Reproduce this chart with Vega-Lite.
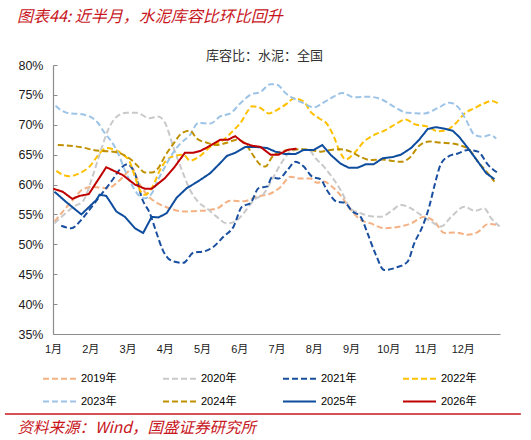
{
  "$schema": "https://vega.github.io/schema/vega-lite/v6.json",
  "width": 447,
  "height": 269,
  "autosize": {"type": "none"},
  "padding": {"left": 53, "top": 65, "right": 31, "bottom": 106},
  "background": "white",
  "title": {
    "text": "图表44: 近半月，水泥库容比环比回升",
    "anchor": "start",
    "frame": "group",
    "dx": -36,
    "font": "Noto Sans CJK SC",
    "fontSize": 16,
    "fontStyle": "italic",
    "fontWeight": "normal",
    "color": "#C8161D",
    "offset": 24
  },
  "config": {
    "view": {"stroke": null},
    "font": "Liberation Sans, Noto Sans CJK SC",
    "axis": {"labelOverlap": false, "labelFlush": false}
  },
  "data": {
    "values": [
      {"s": "2019年", "m": 1.04, "v": 53.8}, {"s": "2019年", "m": 1.28, "v": 55.6}, {"s": "2019年", "m": 1.53, "v": 57.4}, {"s": "2019年", "m": 1.8, "v": 59.2},
      {"s": "2019年", "m": 2.07, "v": 59.6}, {"s": "2019年", "m": 2.48, "v": 59.4}, {"s": "2019年", "m": 2.75, "v": 60.5}, {"s": "2019年", "m": 3.02, "v": 62.2},
      {"s": "2019年", "m": 3.11, "v": 62.8}, {"s": "2019年", "m": 3.33, "v": 60.0}, {"s": "2019年", "m": 3.6, "v": 57.8}, {"s": "2019年", "m": 3.87, "v": 56.7},
      {"s": "2019年", "m": 4.14, "v": 56.0}, {"s": "2019年", "m": 4.5, "v": 55.5}, {"s": "2019年", "m": 4.95, "v": 55.6}, {"s": "2019年", "m": 5.4, "v": 56.0},
      {"s": "2019年", "m": 5.76, "v": 57.3}, {"s": "2019年", "m": 6.12, "v": 57.2}, {"s": "2019年", "m": 6.48, "v": 58.0}, {"s": "2019年", "m": 6.84, "v": 58.5},
      {"s": "2019年", "m": 7.11, "v": 59.6}, {"s": "2019年", "m": 7.37, "v": 61.3}, {"s": "2019年", "m": 7.64, "v": 61.0}, {"s": "2019年", "m": 7.91, "v": 61.0},
      {"s": "2019年", "m": 8.09, "v": 60.3}, {"s": "2019年", "m": 8.27, "v": 60.5}, {"s": "2019年", "m": 8.5, "v": 59.6}, {"s": "2019年", "m": 8.72, "v": 58.2},
      {"s": "2019年", "m": 8.99, "v": 55.8}, {"s": "2019年", "m": 9.26, "v": 54.1}, {"s": "2019年", "m": 9.53, "v": 53.5}, {"s": "2019年", "m": 9.89, "v": 52.7},
      {"s": "2019年", "m": 10.25, "v": 52.9}, {"s": "2019年", "m": 10.61, "v": 53.5}, {"s": "2019年", "m": 10.97, "v": 54.6}, {"s": "2019年", "m": 11.24, "v": 53.8},
      {"s": "2019年", "m": 11.51, "v": 51.9}, {"s": "2019年", "m": 11.78, "v": 52.0}, {"s": "2019年", "m": 12.14, "v": 51.6}, {"s": "2019年", "m": 12.41, "v": 52.1},
      {"s": "2019年", "m": 12.68, "v": 53.4}, {"s": "2019年", "m": 12.95, "v": 53.2},

      {"s": "2020年", "m": 1.04, "v": 53.5}, {"s": "2020年", "m": 1.3, "v": 55.0}, {"s": "2020年", "m": 1.55, "v": 56.3}, {"s": "2020年", "m": 1.8, "v": 57.2},
      {"s": "2020年", "m": 2.07, "v": 61.5}, {"s": "2020年", "m": 2.3, "v": 66.0}, {"s": "2020年", "m": 2.47, "v": 69.0}, {"s": "2020年", "m": 2.7, "v": 71.3},
      {"s": "2020年", "m": 2.97, "v": 72.0}, {"s": "2020年", "m": 3.24, "v": 72.0}, {"s": "2020年", "m": 3.6, "v": 71.1}, {"s": "2020年", "m": 3.82, "v": 71.4},
      {"s": "2020年", "m": 4.01, "v": 70.3}, {"s": "2020年", "m": 4.23, "v": 66.3}, {"s": "2020年", "m": 4.46, "v": 62.4}, {"s": "2020年", "m": 4.68, "v": 59.1},
      {"s": "2020年", "m": 4.9, "v": 57.1}, {"s": "2020年", "m": 5.13, "v": 56.0}, {"s": "2020年", "m": 5.4, "v": 54.6}, {"s": "2020年", "m": 5.67, "v": 53.5},
      {"s": "2020年", "m": 5.89, "v": 53.8}, {"s": "2020年", "m": 6.12, "v": 55.2}, {"s": "2020年", "m": 6.39, "v": 57.4}, {"s": "2020年", "m": 6.66, "v": 58.5},
      {"s": "2020年", "m": 6.92, "v": 61.3}, {"s": "2020年", "m": 7.15, "v": 63.8}, {"s": "2020年", "m": 7.37, "v": 65.5}, {"s": "2020年", "m": 7.64, "v": 65.9},
      {"s": "2020年", "m": 7.87, "v": 65.8}, {"s": "2020年", "m": 8.05, "v": 64.4}, {"s": "2020年", "m": 8.27, "v": 63.0}, {"s": "2020年", "m": 8.45, "v": 61.6},
      {"s": "2020年", "m": 8.72, "v": 59.1}, {"s": "2020年", "m": 8.99, "v": 56.0}, {"s": "2020年", "m": 9.26, "v": 55.2}, {"s": "2020年", "m": 9.53, "v": 54.7},
      {"s": "2020年", "m": 9.8, "v": 54.6}, {"s": "2020年", "m": 10.07, "v": 55.5}, {"s": "2020年", "m": 10.34, "v": 56.6}, {"s": "2020年", "m": 10.61, "v": 56.0},
      {"s": "2020年", "m": 10.88, "v": 54.9}, {"s": "2020年", "m": 11.15, "v": 53.8}, {"s": "2020年", "m": 11.42, "v": 53.0}, {"s": "2020年", "m": 11.69, "v": 54.6},
      {"s": "2020年", "m": 12.05, "v": 56.3}, {"s": "2020年", "m": 12.32, "v": 55.6}, {"s": "2020年", "m": 12.58, "v": 56.0}, {"s": "2020年", "m": 12.76, "v": 54.4},
      {"s": "2020年", "m": 12.99, "v": 53.0},

      {"s": "2021年", "m": 1.22, "v": 53.1}, {"s": "2021年", "m": 1.49, "v": 52.7}, {"s": "2021年", "m": 1.76, "v": 54.1}, {"s": "2021年", "m": 1.98, "v": 55.8},
      {"s": "2021年", "m": 2.25, "v": 58.0}, {"s": "2021年", "m": 2.6, "v": 60.8}, {"s": "2021年", "m": 2.79, "v": 62.5}, {"s": "2021年", "m": 3.0, "v": 63.4},
      {"s": "2021年", "m": 3.2, "v": 61.8}, {"s": "2021年", "m": 3.4, "v": 57.5}, {"s": "2021年", "m": 3.6, "v": 55.2}, {"s": "2021年", "m": 3.78, "v": 51.9},
      {"s": "2021年", "m": 3.95, "v": 49.0}, {"s": "2021年", "m": 4.1, "v": 47.6}, {"s": "2021年", "m": 4.27, "v": 47.1}, {"s": "2021年", "m": 4.5, "v": 46.9},
      {"s": "2021年", "m": 4.77, "v": 48.6}, {"s": "2021年", "m": 5.04, "v": 48.8}, {"s": "2021年", "m": 5.31, "v": 49.6}, {"s": "2021年", "m": 5.58, "v": 51.3},
      {"s": "2021年", "m": 5.85, "v": 53.0}, {"s": "2021年", "m": 6.07, "v": 56.3}, {"s": "2021年", "m": 6.3, "v": 56.9}, {"s": "2021年", "m": 6.52, "v": 59.4},
      {"s": "2021年", "m": 6.75, "v": 59.7}, {"s": "2021年", "m": 6.88, "v": 61.2}, {"s": "2021年", "m": 7.06, "v": 61.0}, {"s": "2021年", "m": 7.29, "v": 62.4},
      {"s": "2021年", "m": 7.51, "v": 63.8}, {"s": "2021年", "m": 7.73, "v": 63.0}, {"s": "2021年", "m": 7.96, "v": 61.3}, {"s": "2021年", "m": 8.18, "v": 60.9},
      {"s": "2021年", "m": 8.36, "v": 59.0}, {"s": "2021年", "m": 8.63, "v": 57.1}, {"s": "2021年", "m": 8.81, "v": 57.0}, {"s": "2021年", "m": 9.04, "v": 55.5},
      {"s": "2021年", "m": 9.26, "v": 54.6}, {"s": "2021年", "m": 9.44, "v": 51.9}, {"s": "2021年", "m": 9.67, "v": 48.2}, {"s": "2021年", "m": 9.89, "v": 45.7},
      {"s": "2021年", "m": 10.25, "v": 46.2}, {"s": "2021年", "m": 10.52, "v": 47.1}, {"s": "2021年", "m": 10.7, "v": 50.2}, {"s": "2021年", "m": 10.92, "v": 53.0},
      {"s": "2021年", "m": 11.1, "v": 56.3}, {"s": "2021年", "m": 11.24, "v": 59.8}, {"s": "2021年", "m": 11.41, "v": 63.4}, {"s": "2021年", "m": 11.64, "v": 64.8},
      {"s": "2021年", "m": 11.87, "v": 65.2}, {"s": "2021年", "m": 12.14, "v": 65.8}, {"s": "2021年", "m": 12.41, "v": 65.5}, {"s": "2021年", "m": 12.68, "v": 63.3},
      {"s": "2021年", "m": 12.95, "v": 61.9},

      {"s": "2022年", "m": 1.09, "v": 62.3}, {"s": "2022年", "m": 1.28, "v": 61.6}, {"s": "2022年", "m": 1.44, "v": 61.4}, {"s": "2022年", "m": 1.71, "v": 61.9},
      {"s": "2022年", "m": 1.98, "v": 63.0}, {"s": "2022年", "m": 2.25, "v": 65.2}, {"s": "2022年", "m": 2.43, "v": 66.1}, {"s": "2022年", "m": 2.66, "v": 65.8},
      {"s": "2022年", "m": 2.88, "v": 65.0}, {"s": "2022年", "m": 3.06, "v": 63.8}, {"s": "2022年", "m": 3.2, "v": 61.3}, {"s": "2022年", "m": 3.33, "v": 59.1},
      {"s": "2022年", "m": 3.47, "v": 58.3}, {"s": "2022年", "m": 3.65, "v": 59.4}, {"s": "2022年", "m": 3.87, "v": 62.4}, {"s": "2022年", "m": 4.05, "v": 64.1},
      {"s": "2022年", "m": 4.27, "v": 64.8}, {"s": "2022年", "m": 4.5, "v": 65.0}, {"s": "2022年", "m": 4.68, "v": 64.0}, {"s": "2022年", "m": 4.95, "v": 64.8},
      {"s": "2022年", "m": 5.22, "v": 66.3}, {"s": "2022年", "m": 5.58, "v": 67.5}, {"s": "2022年", "m": 5.85, "v": 69.1}, {"s": "2022年", "m": 6.03, "v": 70.3},
      {"s": "2022年", "m": 6.25, "v": 72.5}, {"s": "2022年", "m": 6.34, "v": 73.1}, {"s": "2022年", "m": 6.57, "v": 72.8}, {"s": "2022年", "m": 6.79, "v": 71.9},
      {"s": "2022年", "m": 7.02, "v": 72.5}, {"s": "2022年", "m": 7.29, "v": 73.6}, {"s": "2022年", "m": 7.46, "v": 74.4}, {"s": "2022年", "m": 7.73, "v": 73.9},
      {"s": "2022年", "m": 7.91, "v": 72.2}, {"s": "2022年", "m": 8.14, "v": 71.1}, {"s": "2022年", "m": 8.36, "v": 70.1}, {"s": "2022年", "m": 8.54, "v": 68.0},
      {"s": "2022年", "m": 8.68, "v": 65.8}, {"s": "2022年", "m": 8.86, "v": 64.2}, {"s": "2022年", "m": 9.08, "v": 65.2}, {"s": "2022年", "m": 9.35, "v": 67.2},
      {"s": "2022年", "m": 9.62, "v": 68.3}, {"s": "2022年", "m": 9.89, "v": 69.0}, {"s": "2022年", "m": 10.25, "v": 70.3}, {"s": "2022年", "m": 10.47, "v": 70.9},
      {"s": "2022年", "m": 10.7, "v": 70.1}, {"s": "2022年", "m": 11.06, "v": 69.7}, {"s": "2022年", "m": 11.33, "v": 68.9}, {"s": "2022年", "m": 11.55, "v": 69.1},
      {"s": "2022年", "m": 11.82, "v": 70.3}, {"s": "2022年", "m": 12.05, "v": 71.9}, {"s": "2022年", "m": 12.32, "v": 72.8}, {"s": "2022年", "m": 12.58, "v": 73.6},
      {"s": "2022年", "m": 12.77, "v": 74.0}, {"s": "2022年", "m": 12.95, "v": 73.6},

      {"s": "2023年", "m": 1.07, "v": 73.2}, {"s": "2023年", "m": 1.18, "v": 72.6}, {"s": "2023年", "m": 1.44, "v": 71.9}, {"s": "2023年", "m": 1.71, "v": 71.8},
      {"s": "2023年", "m": 1.98, "v": 71.4}, {"s": "2023年", "m": 2.21, "v": 70.3}, {"s": "2023年", "m": 2.39, "v": 68.6}, {"s": "2023年", "m": 2.57, "v": 67.2},
      {"s": "2023年", "m": 2.75, "v": 65.2}, {"s": "2023年", "m": 2.93, "v": 62.4}, {"s": "2023年", "m": 3.11, "v": 60.0}, {"s": "2023年", "m": 3.29, "v": 58.3},
      {"s": "2023年", "m": 3.47, "v": 57.7}, {"s": "2023年", "m": 3.65, "v": 58.5}, {"s": "2023年", "m": 3.82, "v": 60.8}, {"s": "2023年", "m": 4.01, "v": 63.0},
      {"s": "2023年", "m": 4.19, "v": 65.0}, {"s": "2023年", "m": 4.41, "v": 66.8}, {"s": "2023年", "m": 4.68, "v": 68.3}, {"s": "2023年", "m": 4.9, "v": 70.3},
      {"s": "2023年", "m": 5.22, "v": 70.2}, {"s": "2023年", "m": 5.49, "v": 71.4}, {"s": "2023年", "m": 5.76, "v": 71.9}, {"s": "2023年", "m": 6.03, "v": 73.6},
      {"s": "2023年", "m": 6.3, "v": 75.0}, {"s": "2023年", "m": 6.57, "v": 75.5}, {"s": "2023年", "m": 6.84, "v": 76.8}, {"s": "2023年", "m": 7.02, "v": 76.7},
      {"s": "2023年", "m": 7.24, "v": 75.3}, {"s": "2023年", "m": 7.46, "v": 74.4}, {"s": "2023年", "m": 7.73, "v": 73.6}, {"s": "2023年", "m": 8.0, "v": 72.9},
      {"s": "2023年", "m": 8.23, "v": 73.6}, {"s": "2023年", "m": 8.45, "v": 74.4}, {"s": "2023年", "m": 8.77, "v": 75.3}, {"s": "2023年", "m": 9.08, "v": 74.6},
      {"s": "2023年", "m": 9.44, "v": 74.7}, {"s": "2023年", "m": 9.8, "v": 74.3}, {"s": "2023年", "m": 10.16, "v": 73.0}, {"s": "2023年", "m": 10.52, "v": 72.0},
      {"s": "2023年", "m": 10.97, "v": 71.9}, {"s": "2023年", "m": 11.33, "v": 72.8}, {"s": "2023年", "m": 11.64, "v": 73.7}, {"s": "2023年", "m": 11.87, "v": 73.0},
      {"s": "2023年", "m": 12.09, "v": 70.8}, {"s": "2023年", "m": 12.32, "v": 68.3}, {"s": "2023年", "m": 12.55, "v": 68.0}, {"s": "2023年", "m": 12.72, "v": 68.3},
      {"s": "2023年", "m": 12.9, "v": 67.7},

      {"s": "2024年", "m": 1.13, "v": 66.6}, {"s": "2024年", "m": 1.44, "v": 66.5}, {"s": "2024年", "m": 1.8, "v": 66.2}, {"s": "2024年", "m": 2.07, "v": 65.8},
      {"s": "2024年", "m": 2.34, "v": 65.6}, {"s": "2024年", "m": 2.61, "v": 65.5}, {"s": "2024年", "m": 2.88, "v": 65.0}, {"s": "2024年", "m": 3.11, "v": 64.1},
      {"s": "2024年", "m": 3.29, "v": 63.0}, {"s": "2024年", "m": 3.47, "v": 62.0}, {"s": "2024年", "m": 3.65, "v": 62.0}, {"s": "2024年", "m": 3.82, "v": 62.7},
      {"s": "2024年", "m": 4.01, "v": 64.8}, {"s": "2024年", "m": 4.23, "v": 66.8}, {"s": "2024年", "m": 4.46, "v": 68.6}, {"s": "2024年", "m": 4.68, "v": 69.0},
      {"s": "2024年", "m": 4.86, "v": 67.7}, {"s": "2024年", "m": 5.13, "v": 67.0}, {"s": "2024年", "m": 5.4, "v": 66.6}, {"s": "2024年", "m": 5.67, "v": 67.0},
      {"s": "2024年", "m": 5.94, "v": 67.5}, {"s": "2024年", "m": 6.16, "v": 66.9}, {"s": "2024年", "m": 6.34, "v": 65.2}, {"s": "2024年", "m": 6.57, "v": 63.3},
      {"s": "2024年", "m": 6.7, "v": 63.0}, {"s": "2024年", "m": 6.88, "v": 64.6}, {"s": "2024年", "m": 7.11, "v": 65.5}, {"s": "2024年", "m": 7.37, "v": 65.8},
      {"s": "2024年", "m": 7.64, "v": 65.9}, {"s": "2024年", "m": 7.91, "v": 65.8}, {"s": "2024年", "m": 8.18, "v": 65.5}, {"s": "2024年", "m": 8.45, "v": 65.8},
      {"s": "2024年", "m": 8.72, "v": 65.9}, {"s": "2024年", "m": 8.99, "v": 65.5}, {"s": "2024年", "m": 9.26, "v": 64.6}, {"s": "2024年", "m": 9.53, "v": 64.1},
      {"s": "2024年", "m": 9.8, "v": 64.2}, {"s": "2024年", "m": 10.07, "v": 64.0}, {"s": "2024年", "m": 10.34, "v": 63.8}, {"s": "2024年", "m": 10.56, "v": 64.4},
      {"s": "2024年", "m": 10.83, "v": 66.5}, {"s": "2024年", "m": 11.1, "v": 67.2}, {"s": "2024年", "m": 11.42, "v": 67.0}, {"s": "2024年", "m": 11.69, "v": 66.9},
      {"s": "2024年", "m": 11.96, "v": 66.5}, {"s": "2024年", "m": 12.18, "v": 65.8}, {"s": "2024年", "m": 12.41, "v": 63.8}, {"s": "2024年", "m": 12.63, "v": 62.2},
      {"s": "2024年", "m": 12.85, "v": 60.5},

      {"s": "2025年", "m": 1.04, "v": 58.8}, {"s": "2025年", "m": 1.35, "v": 57.1}, {"s": "2025年", "m": 1.76, "v": 55.0}, {"s": "2025年", "m": 2.16, "v": 57.4},
      {"s": "2025年", "m": 2.25, "v": 58.3}, {"s": "2025年", "m": 2.43, "v": 58.1}, {"s": "2025年", "m": 2.7, "v": 55.5}, {"s": "2025年", "m": 2.93, "v": 54.6},
      {"s": "2025年", "m": 3.2, "v": 52.7}, {"s": "2025年", "m": 3.42, "v": 51.9}, {"s": "2025年", "m": 3.65, "v": 54.6}, {"s": "2025年", "m": 3.83, "v": 54.5},
      {"s": "2025年", "m": 4.05, "v": 55.2}, {"s": "2025年", "m": 4.32, "v": 57.8}, {"s": "2025年", "m": 4.59, "v": 59.4}, {"s": "2025年", "m": 4.86, "v": 60.4},
      {"s": "2025年", "m": 5.03, "v": 61.1}, {"s": "2025年", "m": 5.22, "v": 61.9}, {"s": "2025年", "m": 5.49, "v": 63.6}, {"s": "2025年", "m": 5.67, "v": 64.8},
      {"s": "2025年", "m": 5.89, "v": 65.3}, {"s": "2025年", "m": 6.16, "v": 66.3}, {"s": "2025年", "m": 6.43, "v": 66.3}, {"s": "2025年", "m": 6.75, "v": 66.1},
      {"s": "2025年", "m": 6.97, "v": 65.5}, {"s": "2025年", "m": 7.24, "v": 65.1}, {"s": "2025年", "m": 7.51, "v": 65.1}, {"s": "2025年", "m": 7.73, "v": 65.8},
      {"s": "2025年", "m": 8.0, "v": 65.8}, {"s": "2025年", "m": 8.23, "v": 66.6}, {"s": "2025年", "m": 8.45, "v": 65.0}, {"s": "2025年", "m": 8.72, "v": 63.5},
      {"s": "2025年", "m": 8.94, "v": 62.8}, {"s": "2025年", "m": 9.17, "v": 62.8}, {"s": "2025年", "m": 9.4, "v": 63.4}, {"s": "2025年", "m": 9.61, "v": 63.4},
      {"s": "2025年", "m": 9.85, "v": 64.4}, {"s": "2025年", "m": 10.12, "v": 64.6}, {"s": "2025年", "m": 10.34, "v": 65.0}, {"s": "2025年", "m": 10.61, "v": 66.1},
      {"s": "2025年", "m": 10.83, "v": 67.5}, {"s": "2025年", "m": 11.06, "v": 69.3}, {"s": "2025年", "m": 11.28, "v": 69.6}, {"s": "2025年", "m": 11.55, "v": 69.3},
      {"s": "2025年", "m": 11.73, "v": 69.0}, {"s": "2025年", "m": 11.9, "v": 68.0}, {"s": "2025年", "m": 12.14, "v": 66.1}, {"s": "2025年", "m": 12.41, "v": 63.8},
      {"s": "2025年", "m": 12.63, "v": 61.9}, {"s": "2025年", "m": 12.85, "v": 60.9},

      {"s": "2026年", "m": 1.01, "v": 59.3}, {"s": "2026年", "m": 1.26, "v": 58.8}, {"s": "2026年", "m": 1.52, "v": 57.6}, {"s": "2026年", "m": 1.71, "v": 58.1},
      {"s": "2026年", "m": 1.96, "v": 58.4}, {"s": "2026年", "m": 2.43, "v": 62.9}, {"s": "2026年", "m": 2.87, "v": 61.6}, {"s": "2026年", "m": 3.2, "v": 60.0},
      {"s": "2026年", "m": 3.47, "v": 59.3}, {"s": "2026年", "m": 3.65, "v": 59.3}, {"s": "2026年", "m": 4.01, "v": 61.1}, {"s": "2026年", "m": 4.27, "v": 63.0},
      {"s": "2026年", "m": 4.54, "v": 65.3}, {"s": "2026年", "m": 4.76, "v": 65.3}, {"s": "2026年", "m": 4.95, "v": 65.6}, {"s": "2026年", "m": 5.22, "v": 66.5},
      {"s": "2026年", "m": 5.49, "v": 67.5}, {"s": "2026年", "m": 5.7, "v": 67.5}, {"s": "2026年", "m": 5.89, "v": 68.1}, {"s": "2026年", "m": 6.11, "v": 67.0},
      {"s": "2026年", "m": 6.34, "v": 66.5}, {"s": "2026年", "m": 6.57, "v": 66.3}, {"s": "2026年", "m": 6.84, "v": 65.0}, {"s": "2026年", "m": 7.06, "v": 65.0},
      {"s": "2026年", "m": 7.29, "v": 65.8}, {"s": "2026年", "m": 7.54, "v": 66.0}
    ]
  },
  "layer": [
    {
      "transform": [{"filter": "datum.s !== '2025年' && datum.s !== '2026年'"}],
      "mark": {"type": "line", "interpolate": "monotone"},
      "encoding": {
        "x": {
          "field": "m", "type": "quantitative",
          "scale": {"domain": [1, 13], "nice": false, "zero": false},
          "axis": {
            "values": [1, 2, 3, 4, 5, 6, 7, 8, 9, 10, 11, 12],
            "tickCount": 12,
            "labelExpr": "datum.value + '月'",
            "labelFontSize": 11, "labelColor": "#1a1a1a", "labelPadding": 9,
            "ticks": false, "grid": false,
            "domainColor": "#8c8c8c", "domainWidth": 1.2,
            "title": "资料来源：Wind，国盛证券研究所",
            "titleX": -36, "titleY": 93, "titleAlign": "left", "titleBaseline": "middle",
            "titleFont": "Noto Sans CJK SC", "titleFontSize": 15.5, "titleFontStyle": "italic",
            "titleFontWeight": "normal", "titleColor": "#C8161D"
          }
        },
        "y": {
          "field": "v", "type": "quantitative",
          "scale": {"domain": [35, 80], "nice": false, "zero": false},
          "axis": {
            "values": [35, 40, 45, 50, 55, 60, 65, 70, 75, 80],
            "tickCount": 10,
            "labelExpr": "datum.value + '%'",
            "labelFontSize": 12.5, "labelColor": "#1a1a1a", "labelPadding": 14,
            "labelOverlap": false,
            "tickSize": -4, "tickColor": "#8c8c8c", "grid": false,
            "domainColor": "#8c8c8c", "domainWidth": 1.2,
            "title": "库容比：水泥：全国",
            "titleAngle": 0, "titleX": 211, "titleY": -10, "titleAlign": "center", "titleBaseline": "middle",
            "titleFont": "Noto Sans CJK SC", "titleFontSize": 13, "titleFontWeight": "normal", "titleColor": "#333333"
          }
        },
        "color": {
          "field": "s", "type": "nominal",
          "scale": {
            "domain": ["2019年", "2020年", "2021年", "2022年", "2023年", "2024年", "2025年", "2026年"],
            "range": ["#F4B183", "#C9C9C9", "#1A4FA0", "#FFC000", "#9DC3E6", "#BF9000", "#0E4C9E", "#C00000"]
          },
          "legend": {
            "title": null, "orient": "none", "legendX": -11, "legendY": 296,
            "direction": "horizontal", "columns": 4,
            "symbolType": "stroke", "symbolSize": 1089,
            "labelFontSize": 11, "labelColor": "#000000", "labelOffset": 4,
            "columnPadding": 42, "rowPadding": 0
          }
        },
        "strokeDash": {
          "field": "s", "type": "nominal",
          "scale": {
            "domain": ["2019年", "2020年", "2021年", "2022年", "2023年", "2024年", "2025年", "2026年"],
            "range": [[6, 3], [6, 3], [6, 3], [6, 3], [6, 3], [6, 3], [1, 0], [1, 0]]
          }
        },
        "strokeWidth": {
          "field": "s", "type": "nominal",
          "scale": {
            "domain": ["2019年", "2020年", "2021年", "2022年", "2023年", "2024年", "2025年", "2026年"],
            "range": [2, 2, 2, 2, 2, 2, 2.2, 3.2]
          }
        }
      }
    },
    {
      "transform": [{"filter": "datum.s === '2025年' || datum.s === '2026年'"}],
      "mark": {"type": "line"},
      "encoding": {
        "x": {"field": "m", "type": "quantitative"},
        "y": {"field": "v", "type": "quantitative"},
        "color": {"field": "s", "type": "nominal"},
        "strokeDash": {"field": "s", "type": "nominal"},
        "strokeWidth": {"field": "s", "type": "nominal"}
      }
    },
    {
      "data": {"values": [{"footer": "source line"}]},
      "mark": {"type": "rule", "color": "#C8161D", "strokeWidth": 1.5},
      "encoding": {
        "x": {"datum": -0.29, "type": "quantitative"},
        "x2": {"datum": 13.56},
        "y": {"datum": 21.6, "type": "quantitative"}
      }
    }
  ]
}
